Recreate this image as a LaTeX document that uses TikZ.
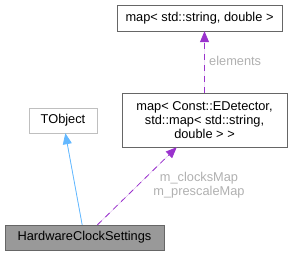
\documentclass[tikz,border=0pt]{standalone}
\usepackage{fontspec}
\setmainfont{Liberation Sans}
\usetikzlibrary{arrows.meta,positioning}
\definecolor{edgegray}{HTML}{666666}
\definecolor{lightedge}{HTML}{BFBFBF}
\definecolor{inhblue}{HTML}{63B8FF}
\definecolor{usepurple}{HTML}{9A32CD}
\definecolor{labelgray}{HTML}{B0B0B0}
\definecolor{hcsfill}{HTML}{999999}

\begin{document}
\begin{tikzpicture}[x=1pt, y=1pt,
  cls/.style={draw=edgegray, fill=white, inner sep=0pt, align=center, font=\fontsize{12.8}{13.8}\selectfont},
  inh/.style={-{Triangle[length=11pt, width=9pt]}, draw=inhblue, fill=inhblue, line width=0.8pt},
  usage/.style={-{Triangle[length=11pt, width=9pt]}, draw=usepurple, fill=usepurple, line width=0.8pt, dash pattern=on 6pt off 5pt},
  lbl/.style={text=labelgray, font=\fontsize{12.8}{13.8}\selectfont, inner sep=0pt}
]
\useasboundingbox (0,0) rectangle (297,256);
\node[cls, minimum width=165pt, minimum height=26pt] (strmap) at (199.5,238) {map< std::string, double >};
\node[cls, minimum width=165pt, minimum height=54pt] (detmap) at (204.5,136) {map< Const::EDetector,\\ std::map< std::string,\\ double > >};
\node[cls, draw=lightedge, minimum width=68pt, minimum height=25pt] (tobj) at (63,135.5) {TObject};
\node[cls, fill=hcsfill, minimum width=159pt, minimum height=25pt] (hcs) at (84.5,18.5) {HardwareClockSettings};
\draw[inh] (hcs) -- (tobj);
\draw[usage] (hcs) -- (detmap);
\draw[usage] (detmap.north) -- (detmap.north |- strmap.south);
\node[lbl, anchor=west] (lblelem) at (209,195) {elements};
\node[lbl, align=center] (lblmaps) at (199,70.5) {m\_clocksMap\\m\_prescaleMap};
\end{tikzpicture}
\end{document}
